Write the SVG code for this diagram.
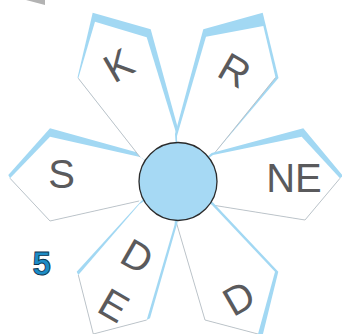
<svg xmlns="http://www.w3.org/2000/svg" width="342" height="334" viewBox="0 0 342 334">
  <style>
    .back { fill: #a2d8f3; stroke: none; }
    .face { fill: #ffffff; stroke: none; }
    .edge { fill: none; stroke: #b3b8bc; stroke-width: 0.8; stroke-linejoin: round; }
    .lbl { font-family: "Liberation Sans", Arial, sans-serif; font-size: 40px; fill: #5a5a5c; text-anchor: middle; }
    .hub { fill: #a6d9f4; stroke: #2b2b2b; stroke-width: 1.3; }
    .num { font-family: "Liberation Sans", Arial, sans-serif; font-size: 33px; font-weight: bold; fill: #1c8cc6; stroke: #0e3550; stroke-width: 0.9; text-anchor: middle; }
  </style>

  <!-- corner sliver -->
  <polygon points="26,0 45,0 45,5" fill="#b3b3b3"/>

  <!-- petal: S (left) -->
  <g id="petal-s">
    <polygon class="back" points="141,153.5 50,128.3 8.3,175 10,178.3 50,221 139,201 178,181"/>
    <polygon class="face" points="140,157 50,136.7 10,178.3 50,221 139,201 178,181"/>
    <polyline class="edge" points="10,178.3 50,221 139,201"/>
    <text class="lbl" x="61.5" y="188.3">S</text>
  </g>

  <!-- petal: K (upper left) -->
  <g id="petal-k">
    <polygon class="back" points="140,157 77.5,77.5 92.7,12.7 150.7,29.3 179.5,134 178,181"/>
    <polygon class="face" points="140,157 78.3,78.3 95,21.7 146.7,37.3 177,136 178,181"/>
    <polyline class="edge" points="78.3,78.3 140,157"/>
    <g transform="translate(118.3,65) rotate(-30)"><text class="lbl" x="0" y="14.3">K</text></g>
  </g>

  <!-- petal: R (upper right) -->
  <g id="petal-r">
    <polygon class="back" points="175,134 203.3,29.3 262.7,12.7 278.5,78 213,155 178,181"/>
    <polygon class="face" points="177,136 206,36.7 263.3,26 275.5,77.5 213,155 178,181"/>
    <polyline class="edge" points="275.5,77.5 213,155"/>
    <g transform="translate(235,70) rotate(30)"><text class="lbl" x="0" y="14.3">R</text></g>
  </g>

  <!-- petal: NE (right) -->
  <g id="petal-ne">
    <polygon class="back" points="211.7,153 303.3,128.3 343,176 340,178.3 305,220 212,205 178,181"/>
    <polygon class="face" points="213,155 301.7,136.7 340,178.3 305,220 212,205 178,181"/>
    <polyline class="edge" points="340,178.3 305,220 212,205"/>
    <text class="lbl" x="294" y="191.5">NE</text>
  </g>

  <!-- petal: D (lower right) -->
  <g id="petal-d">
    <polygon class="back" points="213,202.5 278.3,271.7 262,338 258,334 205,320 176.5,223 178,181"/>
    <polygon class="face" points="212,205 275,271.7 258,334 205,320 176.5,223 178,181"/>
    <polyline class="edge" points="176.5,223 205,320 258,334"/>
    <g transform="translate(238.5,298) rotate(-30)"><text class="lbl" x="0" y="14.3">D</text></g>
  </g>

  <!-- petal: D/E (lower left) -->
  <g id="petal-de">
    <polygon class="back" points="177.5,222.5 150,318.3 146.7,320 93.3,334 78.3,275 76.7,271.7 141.7,200.5 178,181"/>
    <polygon class="face" points="174.5,225 146.7,320 93.3,334 78.3,275 139.5,204 178,181"/>
    <polyline class="edge" points="146.7,320 93.3,334 78.3,275"/>
    <g transform="translate(137.5,256) rotate(30)"><text class="lbl" x="0" y="14.3">D</text></g>
    <g transform="translate(114,305) rotate(30)"><text class="lbl" x="0" y="14.3">E</text></g>
  </g>

  <!-- centre disc -->
  <g id="hub">
    <circle class="hub" cx="178" cy="181.5" r="39"/>
  </g>

  <!-- side number -->
  <g id="label-5">
    <text class="num" x="41.7" y="275">5</text>
  </g>

  <!-- no connectors in this figure -->
  <g id="connectors"></g>
</svg>
